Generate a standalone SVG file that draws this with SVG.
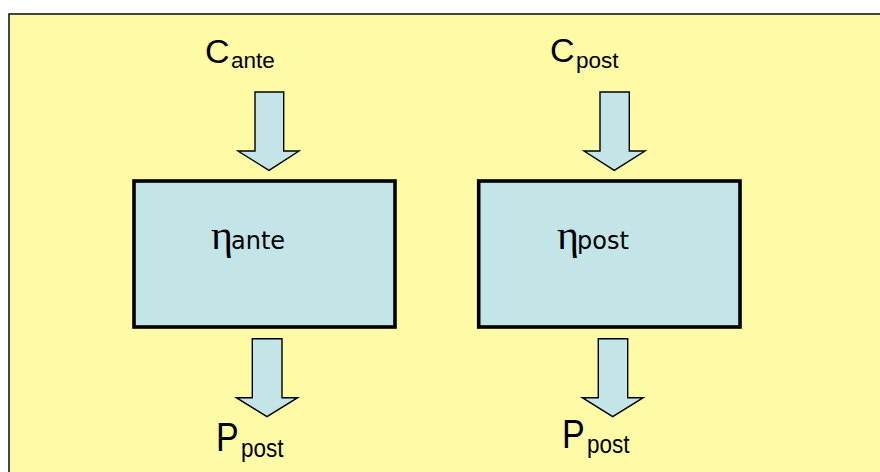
<svg xmlns="http://www.w3.org/2000/svg" width="880" height="472" viewBox="0 0 880 472">
<style>
.bg{fill:#FFFAA6;stroke:#1a1a1a;stroke-width:1.6}
.box{fill:#C4E5E8;stroke:#000;stroke-width:3.6}
.arr{fill:#C4E5E8;stroke:#000;stroke-width:1.4;stroke-linejoin:miter}
.big{font-family:"Liberation Sans",Arial,sans-serif;font-size:34px;fill:#000}
.sub{font-family:"Liberation Sans",Arial,sans-serif;font-size:22.5px;fill:#000}
.eta{font-family:"Liberation Serif","Times New Roman",serif;font-size:42px;fill:#000}
.vsub{font-family:"DejaVu Sans",Verdana,sans-serif;font-size:24px;fill:#000}
</style>
<rect class="bg" x="9" y="14" width="880" height="470"/>
<g id="label-c-ante"><text class="big" x="205" y="63">C</text><text class="sub" x="231" y="68">ante</text></g>
<g id="label-c-post"><text class="big" x="550" y="62">C</text><text class="sub" x="576" y="68">post</text></g>
<g id="node-ante"><rect class="box" x="134" y="181" width="261" height="146"/><text class="eta" x="211" y="249">η</text><text class="vsub" x="231" y="249">ante</text></g>
<g id="node-post"><rect class="box" x="478.7" y="181" width="261.3" height="146"/><text class="eta" x="557" y="249">η</text><text class="vsub" x="577" y="249">post</text></g>
<g id="label-p-post-1" transform="translate(0,451) scale(1,1.17)"><text class="big" x="216" y="0">P</text><text class="sub" x="241" y="5">post</text></g>
<g id="label-p-post-2" transform="translate(0,448) scale(1,1.17)"><text class="big" x="562" y="0">P</text><text class="sub" x="587" y="4.5">post</text></g>
<g id="connectors">
<path class="arr" d="M255,92 H283.7 V151 H299 L269,170.3 L238,151 H255 Z"/>
<path class="arr" d="M600,92 H629.3 V151 H645 L614.3,170.3 L584,151 H600 Z"/>
<path class="arr" d="M252.3,338.7 H282 V397.7 H297.7 L267,416.7 L236.3,397.7 H252.3 Z"/>
<path class="arr" d="M598.3,338.7 H627.7 V397.7 H643.3 L612.7,416.7 L582.3,397.7 H598.3 Z"/>
</g>
</svg>
